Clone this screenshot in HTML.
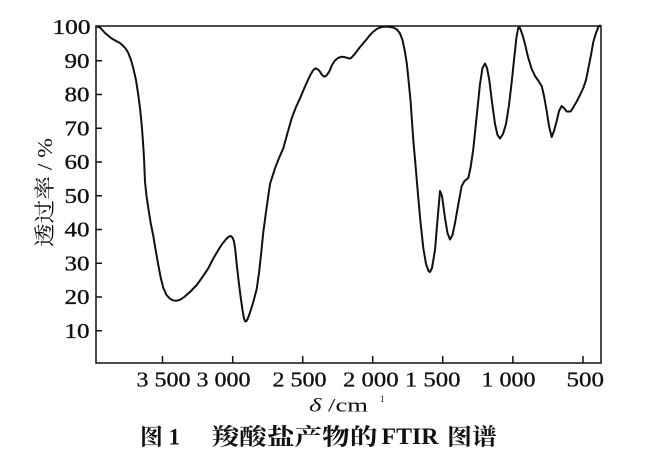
<!DOCTYPE html>
<html>
<head>
<meta charset="utf-8">
<style>
  html,body{margin:0;padding:0;background:#fff;}
  svg{display:block;}
  text{fill:#111;}
</style>
</head>
<body>
<svg width="664" height="459" viewBox="0 0 664 459" xmlns="http://www.w3.org/2000/svg">
  <!-- frame -->
  <rect x="96" y="26" width="505" height="337" fill="none" stroke="#111" stroke-width="1.5"/>
  <!-- y ticks (inward) -->
  <g stroke="#111" stroke-width="1.5">
    <line x1="96" y1="330.75" x2="102" y2="330.75"/>
    <line x1="96" y1="297" x2="102" y2="297"/>
    <line x1="96" y1="263.25" x2="102" y2="263.25"/>
    <line x1="96" y1="229.5" x2="102" y2="229.5"/>
    <line x1="96" y1="195.75" x2="102" y2="195.75"/>
    <line x1="96" y1="162" x2="102" y2="162"/>
    <line x1="96" y1="128.25" x2="102" y2="128.25"/>
    <line x1="96" y1="94.5" x2="102" y2="94.5"/>
    <line x1="96" y1="60.75" x2="102" y2="60.75"/>
  </g>
  <!-- x ticks (inward) -->
  <g stroke="#111" stroke-width="1.5">
    <line x1="162.5" y1="363" x2="162.5" y2="356"/>
    <line x1="232.7" y1="363" x2="232.7" y2="356"/>
    <line x1="302.7" y1="363" x2="302.7" y2="356"/>
    <line x1="372.7" y1="363" x2="372.7" y2="356"/>
    <line x1="442.7" y1="363" x2="442.7" y2="356"/>
    <line x1="512.9" y1="363" x2="512.9" y2="356"/>
    <line x1="583" y1="363" x2="583" y2="356"/>
  </g>

  <!-- y labels -->
  <g font-family="'Liberation Serif', serif" font-size="21" stroke="#111" stroke-width="0.35">
    <text x="52.5" y="34" textLength="38" lengthAdjust="spacingAndGlyphs">100</text>
    <text x="64.5" y="67.75" textLength="25" lengthAdjust="spacingAndGlyphs">90</text>
    <text x="64.5" y="101.5" textLength="25" lengthAdjust="spacingAndGlyphs">80</text>
    <text x="64.5" y="135.25" textLength="25" lengthAdjust="spacingAndGlyphs">70</text>
    <text x="64.5" y="169" textLength="25" lengthAdjust="spacingAndGlyphs">60</text>
    <text x="64.5" y="202.75" textLength="25" lengthAdjust="spacingAndGlyphs">50</text>
    <text x="64.5" y="236.5" textLength="25" lengthAdjust="spacingAndGlyphs">40</text>
    <text x="64.5" y="270.25" textLength="25" lengthAdjust="spacingAndGlyphs">30</text>
    <text x="64.5" y="304" textLength="25" lengthAdjust="spacingAndGlyphs">20</text>
    <text x="64.5" y="337.75" textLength="25" lengthAdjust="spacingAndGlyphs">10</text>
  </g>

  <!-- x labels -->
  <g font-family="'Liberation Serif', serif" font-size="21" stroke="#111" stroke-width="0.3">
    <text x="136.5" y="386.5" textLength="114" lengthAdjust="spacingAndGlyphs">3 500 3 000</text>
    <text x="272.5" y="386.5" textLength="54" lengthAdjust="spacingAndGlyphs">2 500</text>
    <text x="343" y="386.5" textLength="117.5" lengthAdjust="spacingAndGlyphs">2 000 1 500</text>
    <text x="481.5" y="386.5" textLength="54" lengthAdjust="spacingAndGlyphs">1 000</text>
    <text x="566.5" y="386.5" textLength="37.5" lengthAdjust="spacingAndGlyphs">500</text>
  </g>

  <!-- x axis title -->
  <text x="309" y="411.5" font-family="'Liberation Serif', serif" font-size="19" textLength="59" lengthAdjust="spacingAndGlyphs"><tspan font-style="italic">δ</tspan> /cm</text>
  <text x="380" y="402" font-family="'Liberation Serif', serif" font-size="9">1</text>

  <!-- y axis title -->
  <text transform="translate(52,247) rotate(-90)" x="0" y="0" font-family="'Liberation Serif', 'Noto Serif CJK SC', serif" font-size="21" textLength="109" lengthAdjust="spacingAndGlyphs">透过率 / %</text>

  <!-- caption -->
  <g font-family="'Liberation Serif', 'Noto Serif CJK SC', serif" font-size="23" font-weight="bold">
    <text x="140" y="444.5" textLength="40" lengthAdjust="spacingAndGlyphs">图 1</text>
    <text x="211.5" y="444.5" textLength="166" lengthAdjust="spacingAndGlyphs">羧酸盐产物的</text>
    <text x="381.5" y="444" textLength="57" lengthAdjust="spacingAndGlyphs">FTIR</text>
    <text x="447" y="444.5" textLength="50" lengthAdjust="spacingAndGlyphs">图谱</text>
  </g>

  <!-- spectrum -->
  <polyline fill="none" stroke="#111" stroke-width="2" stroke-linejoin="round" stroke-linecap="round" points="
97,26.5 100,27.5 105,33 111.7,38.5 117,41.5 120,43 123.3,46 126,49 128.3,53 131,60 133.3,68.3 136,80 138.3,95 140,108 141.7,125 143,142 144,158 145,181.7 146.5,196 148.3,208 150.5,222 153.3,236 155.8,251 158.3,265 160.8,278 163.3,288 166.5,295 170,298.7 173,300.3 176,300.8 179.5,300 183.3,297.7 190,292 196.7,285 202.5,277 208.3,268.3 213,259 218.3,250 222.5,243.5 226.7,238.5 229,236.5 230.7,236 232.5,237.5 234,241.5 235.3,250 236.7,264 238.5,280 240.5,296 242.5,310 244,318.5 245.3,321.5 246.5,321 248,318 250,312.5 253,303 256.7,289 259,273 261,255 263.3,232 266,212 268,198 270,184 275,168.3 279,158 283.3,148.3 287.5,133 291.7,118.3 296,107 300,98.3 305,86.5 310,75.5 313,70.5 315.5,68.3 318,69.5 320,71.7 322,75 324.3,76.7 326.5,75.5 329.3,71.5 332,65 335,60.5 338,58 341.7,56.7 344,57 346.7,57.7 349,58.5 350.7,58.3 353.5,55.5 356.7,51.5 360,47 363.3,43.3 366,40 370,35 373,32 376.7,29 380,27.5 383.3,26.8 388,26.7 393.3,27.5 397,29.5 400,33.5 402.5,40 405,52 407,65 408.5,80 410.5,100 413.3,140 415.5,165 418.3,198 420.5,222 423.3,248 426,264 428.5,271 430,272 432,268 435,250 437.5,220 440,191 442,196 445,218 447.5,233 450,239.5 452.5,235 455,223 458,206 461.7,186 464.5,181 468.3,178 470.5,168 473.3,149 476.5,118 480,84 482.5,68 485,63.5 487,68 489.3,80 492,102 495,124 497.5,135 500,138.5 503,134 506,124 509,105 511.7,82 514,60 516.5,37 518.3,27.5 520,28 522.5,35 525,44 528,57 531.7,69 535,76 538.5,81 541.7,86 544,96 546.7,111 549,126 551.7,137 554,131 556.7,121 559,111 561.7,106 564,108 566.7,111.5 570.7,111.5 573.5,107 576.7,101.5 580,95 583.3,88 586,80 588.3,68.5 591,55 593.3,42 596,33 598.3,27 600,25.5"/>
</svg>
</body>
</html>
